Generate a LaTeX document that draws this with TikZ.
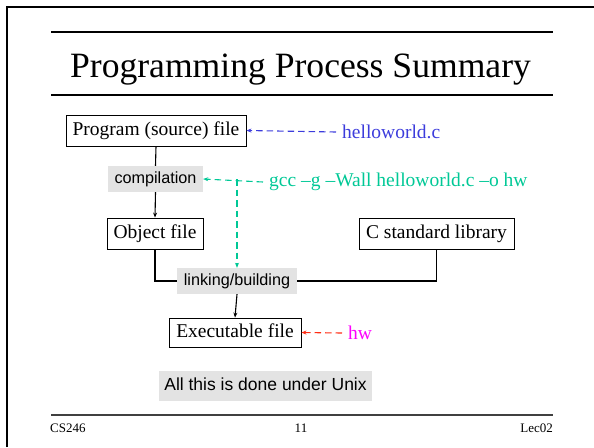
\documentclass[tikz,border=0pt]{standalone}
\usepackage{fontspec}
\setmainfont{Liberation Serif}
\setsansfont{Liberation Sans}
\usetikzlibrary{arrows.meta}
\definecolor{hblue}{RGB}{60,60,220}
\definecolor{hgreen}{RGB}{0,200,150}
\definecolor{hred}{RGB}{255,45,20}
\definecolor{hmag}{RGB}{255,0,255}
\definecolor{boxgray}{RGB}{227,227,227}
\begin{document}
\begin{tikzpicture}[x=1pt,y=-1pt,
  fbox/.style={draw, line width=0.9pt, inner sep=0pt, minimum height=31pt,
    font=\fontsize{19.5}{22}\selectfont, text height=13.5pt, text depth=4pt},
  gbox/.style={fill=boxgray, inner sep=0pt, minimum height=26pt,
    font=\sffamily\fontsize{16.2}{18}\selectfont, text height=11.5pt, text depth=3.5pt},
  lbl/.style={inner xsep=6pt, inner ysep=3pt, anchor=west, font=\fontsize{19.5}{22}\selectfont},
  conn/.style={line width=1.1pt},
  tip/.style={-{Stealth[length=5pt,width=4pt]}},
  dsh/.style={line width=1.1pt, dash pattern=on 6.5pt off 4pt, -{Stealth[length=5pt,width=4pt]}}
]
\useasboundingbox (0,0) rectangle (594,447);
% slide frame
\draw[line width=2pt] (7,447) -- (7,7) -- (594,7);
\draw[line width=1.2pt] (51,32) -- (553,32);
\draw[line width=1.2pt] (51,95) -- (553,95);
\draw[line width=1.2pt, black!75] (51,415) -- (553,415);
% title and footer
\node[anchor=base, inner sep=0pt, font=\fontsize{35.6}{40}\selectfont] (title) at (300.5,77) {Programming Process Summary};
\node[anchor=base west, inner sep=0pt, font=\fontsize{13}{15}\selectfont] (fl) at (50,432) {CS246};
\node[anchor=base, inner sep=0pt, font=\fontsize{13}{15}\selectfont] (fc) at (301,432) {11};
\node[anchor=base east, inner sep=0pt, font=\fontsize{13}{15}\selectfont] (fr) at (553,432) {Lec02};
% boxes
\node[fbox, minimum width=180pt] (prog) at (156,130.5) {Program (source) file};
\node[gbox, minimum width=95pt] (comp) at (155.5,179) {compilation};
\node[fbox, minimum width=96pt] (obj) at (155,233.5) {Object file};
\node[fbox, minimum width=155pt] (clib) at (436.5,233.5) {C standard library};
\node[gbox, minimum width=120pt] (link) at (237,281) {linking/building};
\node[fbox, minimum width=132pt, minimum height=29pt] (exe) at (235,332.5) {Executable file};
\node[fill=boxgray, inner sep=0pt, minimum width=213pt, minimum height=30pt,
  font=\sffamily\fontsize{17.5}{20}\selectfont, text height=12.5pt, text depth=4pt] (unix) at (265.5,386) {All this is done under Unix};
% labels
\node[lbl, text=hblue] (hello) at (336,132) {helloworld.c};
\node[lbl, text=hgreen] (gcc) at (263,182) {gcc –g –Wall helloworld.c –o hw};
\node[lbl, text=hmag] (hw) at (342,333) {hw};
% connectors
\draw[conn] (prog.south) -- (comp.north);
\draw[conn, tip] (comp.south) -- (obj.north);
\draw[conn] (obj.south) |- (link.west);
\draw[conn] (clib.south) |- (link.east);
\draw[conn, tip] (link.south) -- (exe.north);
\draw[dsh, hblue] (hello.west) -- (prog.east);
\draw[dsh, hgreen] (gcc.west) -- (comp.east);
\coordinate (gj) at (link.north |- comp.east);
\draw[dsh, hgreen] (gj) -- (link.north);
\draw[dsh, hred] (hw.west) -- (exe.east);
\end{tikzpicture}
\end{document}
